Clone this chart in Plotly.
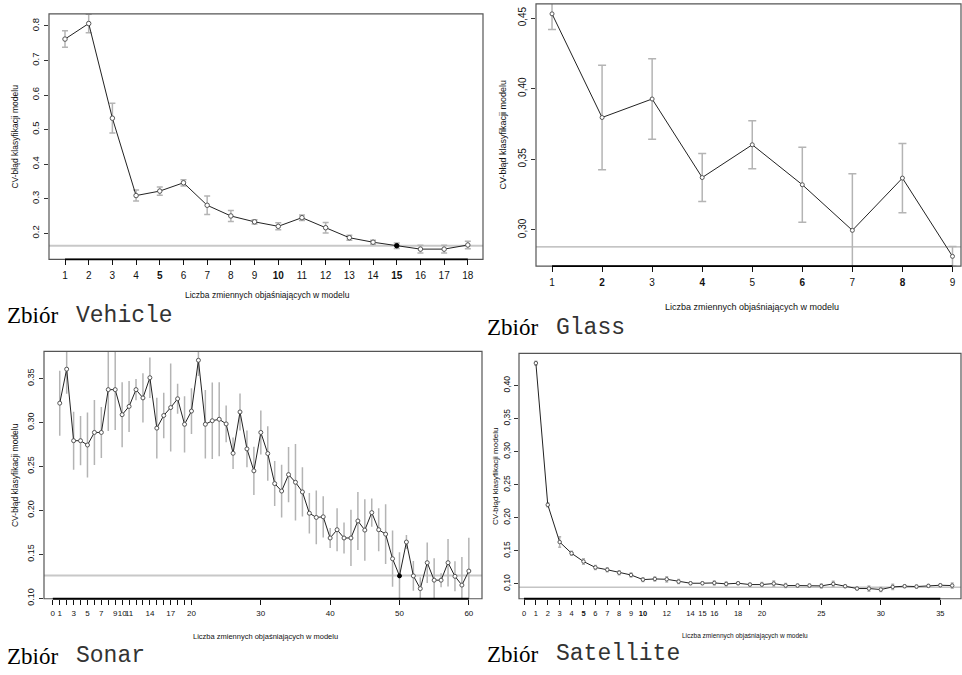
import plotly.graph_objects as go

W, H = 962, 675

# ---------------- data ----------------
veh_x = list(range(1, 19))
veh_y = [0.762, 0.807, 0.533, 0.309, 0.322, 0.346, 0.281, 0.250, 0.233, 0.220,
         0.245, 0.216, 0.187, 0.174, 0.164, 0.154, 0.154, 0.166]
veh_err = [0.024, 0.027, 0.043, 0.016, 0.012, 0.009, 0.027, 0.016, 0.006, 0.010,
           0.008, 0.015, 0.007, 0.006, 0.008, 0.011, 0.011, 0.011]
veh_best = 15
veh_ref = 0.164

gla_x = list(range(1, 10))
gla_y = [0.453, 0.3796, 0.3927, 0.3371, 0.3603, 0.332, 0.2997, 0.3367, 0.2813]
gla_err = [0.011, 0.037, 0.0285, 0.017, 0.017, 0.0265, 0.040, 0.0245, 0.007]
gla_ref = 0.288

son_x = list(range(1, 61))
son_y = [0.322, 0.3607, 0.2793, 0.2793, 0.2744, 0.2887, 0.2887, 0.3374, 0.3374, 0.3089,
         0.3183, 0.3374, 0.328, 0.351, 0.2936, 0.308, 0.317, 0.327, 0.298, 0.313,
         0.3708, 0.298, 0.302, 0.3037, 0.2984, 0.265, 0.312, 0.270, 0.245, 0.2887,
         0.2647, 0.2305, 0.222, 0.2407, 0.232, 0.221, 0.1968, 0.192, 0.1927, 0.1686,
         0.178, 0.1686, 0.1686, 0.188, 0.1776, 0.1975, 0.178, 0.173, 0.145, 0.1255,
         0.164, 0.1255, 0.111, 0.1405, 0.1206, 0.1206, 0.1405, 0.125, 0.115, 0.131]
son_err = [0.037, 0.028, 0.033, 0.028, 0.037, 0.037, 0.029, 0.047, 0.046, 0.037,
           0.029, 0.012, 0.028, 0.023, 0.0345, 0.026, 0.050, 0.017, 0.032, 0.026,
           0.018, 0.039, 0.0435, 0.042, 0.021, 0.018, 0.021, 0.021, 0.0275, 0.025,
           0.031, 0.0256, 0.030, 0.0315, 0.0435, 0.028, 0.023, 0.0305, 0.0235, 0.0115,
           0.0245, 0.0177, 0.032, 0.033, 0.035, 0.016, 0.0245, 0.034, 0.032, 0.027,
           0.008, 0.017, 0.013, 0.023, 0.025, 0.008, 0.027, 0.017, 0.032, 0.038]
son_best = 50
son_ref = 0.126

sat_x = list(range(1, 37))
sat_y = [0.4338, 0.2196, 0.1633, 0.1463, 0.1339, 0.1249, 0.1214, 0.117, 0.1135, 0.1065,
         0.1075, 0.107, 0.1035, 0.101, 0.101, 0.1015, 0.100, 0.101, 0.099, 0.099,
         0.1005, 0.0975, 0.0975, 0.0975, 0.097, 0.100, 0.0965, 0.093, 0.093, 0.0915,
         0.0955, 0.0965, 0.096, 0.097, 0.098, 0.0975]
sat_err = [0.003, 0.003, 0.008, 0.003, 0.004, 0.003, 0.003, 0.003, 0.003, 0.003,
           0.003, 0.004, 0.003, 0.002, 0.002, 0.003, 0.003, 0.002, 0.002, 0.003,
           0.004, 0.003, 0.002, 0.002, 0.003, 0.004, 0.002, 0.002, 0.004, 0.003,
           0.004, 0.002, 0.002, 0.002, 0.002, 0.004]
sat_ref = 0.095

veh_xticks = list(range(1, 19))
veh_xbold = [5, 10, 15]
veh_yticks = [0.2, 0.3, 0.4, 0.5, 0.6, 0.7, 0.8]
veh_ytext = ["0.2", "0.3", "0.4", "0.5", "0.6", "0.7", "0.8"]

gla_xticks = list(range(1, 10))
gla_xbold = [2, 4, 6, 8]
gla_yticks = [0.30, 0.35, 0.40, 0.45]
gla_ytext = ["0,30", "0,35", "0,40", "0,45"]

son_xticks = list(range(0, 21)) + [30, 40, 50, 60]
son_xlabels = [0, 1, 3, 5, 7, 9, 10, 11, 14, 17, 20, 30, 40, 50, 60]
son_yticks = [0.10, 0.15, 0.20, 0.25, 0.30, 0.35]
son_ytext = ["0.10", "0.15", "0.20", "0.25", "0.30", "0.35"]

sat_xticks = list(range(0, 21)) + [25, 30, 35]
sat_xlabels = list(range(0, 11)) + [12, 14, 15, 16, 18, 20, 25, 30, 35]
sat_xbold = [5, 10]
sat_yticks = [0.10, 0.15, 0.20, 0.25, 0.30, 0.35, 0.40]
sat_ytext = ["0,10", "0,15", "0,20", "0,25", "0,30", "0,35", "0,40"]

xtitle = "Liczba zmiennych objaśniających w modelu"
ytitle = "CV-błąd klasyfikacji modelu"
captions = [("Zbiór", "Vehicle"), ("Zbiór", "Glass"), ("Zbiór", "Sonar"), ("Zbiór", "Satellite")]

# ---------------- layout geometry (pixels) ----------------
panels = [
    dict(x0=49, x1=483, top=14, bot=262, xr=[0.325, 18.64], yr=[0.1246, 0.835]),
    dict(x0=536, x1=961, top=4, bot=269, xr=[0.68, 9.17], yr=[0.2743, 0.460]),
    dict(x0=44, x1=482, top=355, bot=605, xr=[-1.27, 61.9], yr=[0.0995, 0.381]),
    dict(x0=519, x1=961, top=357, bot=605, xr=[-0.42, 36.74], yr=[0.0776, 0.4487]),
]

def px(x):
    return x / W

def py(y):
    return 1 - y / H

def tick_text(ticks, labels=None, bold=()):
    out = []
    for t in ticks:
        if labels is not None and t not in labels:
            out.append("")
        elif t in bold:
            out.append("<b>%d</b>" % t)
        else:
            out.append("%d" % t)
    return out

LINE = "#222222"
PT = "#555555"
ERR = "#b4b4b4"
SANS = "'Liberation Sans', Arial, sans-serif"
SERIF = "'Liberation Serif', 'Times New Roman', serif"
MONO = "'Liberation Mono', 'Courier New', monospace"

fig = go.Figure()

series = [
    (veh_x, veh_y, veh_err, veh_best, 3, 4.5),
    (gla_x, gla_y, gla_err, None, 4, 4),
    (son_x, son_y, son_err, son_best, 0, 4),
    (sat_x, sat_y, sat_err, None, 1.5, 3.5),
]

for i, (xs, ys, es, best, cap, msize) in enumerate(series):
    ax = "" if i == 0 else str(i + 1)
    fills = ["#000000" if (best is not None and x == best) else "#ffffff" for x in xs]
    lines = ["#000000" if (best is not None and x == best) else PT for x in xs]
    fig.add_trace(go.Scatter(
        x=xs, y=ys, mode="lines+markers",
        xaxis="x" + ax, yaxis="y" + ax,
        line=dict(color=LINE, width=1),
        marker=dict(symbol="circle", size=msize, color=fills,
                    line=dict(color=lines, width=1)),
        error_y=dict(type="data", array=es, visible=True, color=ERR,
                     thickness=1.5, width=cap),
        showlegend=False, hoverinfo="x+y",
    ))

xaxes_ticks = [
    (veh_xticks, tick_text(veh_xticks, None, veh_xbold), 10),
    (gla_xticks, tick_text(gla_xticks, None, gla_xbold), 10),
    (son_xticks, tick_text(son_xticks, son_xlabels), 8),
    (sat_xticks, tick_text(sat_xticks, sat_xlabels, sat_xbold), 7.5),
]
yaxes_ticks = [
    (veh_yticks, veh_ytext, 9.5),
    (gla_yticks, gla_ytext, 10),
    (son_yticks, son_ytext, 9),
    (sat_yticks, sat_ytext, 8.5),
]
refs = [veh_ref, gla_ref, son_ref, sat_ref]
ref_style = [("#c8c8c8", 2), ("#b0b0b0", 1.2), ("#c8c8c8", 2), ("#c4c4c4", 1.5)]

layout = dict(
    width=W, height=H, margin=dict(l=0, r=0, t=0, b=0),
    paper_bgcolor="white", plot_bgcolor="white",
    font=dict(family=SANS, color="#111111"),
    showlegend=False,
)
shapes = []
annotations = []

for i, p in enumerate(panels):
    ax = "" if i == 0 else str(i + 1)
    xt, xtxt, xfs = xaxes_ticks[i]
    yt, ytxt, yfs = yaxes_ticks[i]
    layout["xaxis" + ax] = dict(
        domain=[px(p["x0"]), px(p["x1"])], range=p["xr"], anchor="y" + ax,
        tickmode="array", tickvals=xt, ticktext=xtxt, tickangle=0,
        ticks="outside", ticklen=5, tickwidth=1, tickcolor="#111",
        tickfont=dict(size=xfs, color="#111", family=SANS), showgrid=False, zeroline=False,
        showline=False, ticklabelstandoff=2,
    )
    layout["yaxis" + ax] = dict(
        domain=[py(p["bot"]), py(p["top"])], range=p["yr"], anchor="x" + ax,
        tickmode="array", tickvals=yt, ticktext=ytxt, tickangle=-90,
        ticks="outside", ticklen=4, tickwidth=1, tickcolor="#333",
        tickfont=dict(size=yfs, color="#111", family=SANS), showgrid=False, zeroline=False,
        showline=False, ticklabelstandoff=1,
    )
    xref = "x" + ax
    yref = "y" + ax
    col, wd = ref_style[i]
    shapes.append(dict(type="line", xref=xref + " domain", yref=yref,
                       x0=0, x1=1, y0=refs[i], y1=refs[i],
                       line=dict(color=col, width=wd), layer="below"))
    shapes.append(dict(type="rect", xref=xref + " domain", yref=yref + " domain",
                       x0=0, x1=1, y0=0, y1=1,
                       line=dict(color="#555555", width=1.2)))
    shapes.append(dict(type="line", xref=xref, yref=yref + " domain",
                       x0=xt[0], x1=xt[-1], y0=0, y1=0,
                       line=dict(color="#000000", width=1.8)))

# axis titles
xt_pos = [(267, 298, 8.5), (752, 310, 9), (265, 643, 7.5), (745, 643, 6.5)]
yt_pos = [(15, 138, 8.5), (503, 136, 9), (15, 480, 8.5), (495, 481, 8)]
for (x, y, fs) in xt_pos:
    annotations.append(dict(text=xtitle, x=px(x), y=py(y), xref="paper", yref="paper",
                            showarrow=False, xanchor="center", yanchor="middle",
                            font=dict(size=fs, color="#111", family=SANS)))
for (x, y, fs) in yt_pos:
    annotations.append(dict(text=ytitle, x=px(x), y=py(y), xref="paper", yref="paper",
                            showarrow=False, xanchor="center", yanchor="middle",
                            textangle=-90, font=dict(size=fs, color="#111", family=SANS)))

# captions
cap_pos = [(5, 319), (485, 331), (5, 663), (485, 661)]
for (serif, mono), (x, y) in zip(captions, cap_pos):
    annotations.append(dict(text=serif, x=px(x), y=py(y), xref="paper", yref="paper",
                            showarrow=False, xanchor="left", yanchor="middle",
                            font=dict(size=23, family=SERIF, color="#000")))
    annotations.append(dict(text=mono, x=px(x + 69), y=py(y), xref="paper", yref="paper",
                            showarrow=False, xanchor="left", yanchor="middle",
                            font=dict(size=23, family=MONO, color="#333")))

layout["shapes"] = shapes
layout["annotations"] = annotations
fig.update_layout(**layout)
fig.write_html("out.html", config={"displayModeBar": False},
               post_script="document.body.style.margin='0';document.body.style.overflow='hidden';")
